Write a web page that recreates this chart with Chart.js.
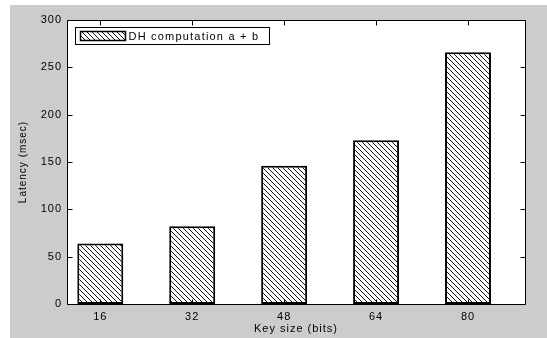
<!DOCTYPE html>
<html>
<head>
<meta charset="utf-8">
<script src="https://cdn.jsdelivr.net/npm/chart.js@4.4.0/dist/chart.umd.min.js"></script>
<style>
html, body { margin: 0; padding: 0; background: #fff; }
#wrap { position: absolute; left: 10px; top: 5px; width: 537px; height: 333px; background: #cccccc; }
</style>
</head>
<body>
<div id="wrap"><canvas id="chart-area" width="537" height="333"></canvas></div>
<script>
// values
var keySizes = ['16', '32', '48', '64', '80'];
var latency = [64, 82, 146, 173, 266];
var yTicks = [0, 50, 100, 150, 200, 250, 300];
var seriesLabel = 'DH computation a + b';

var FONT = 'Liberation Sans, Arial, sans-serif';

function hatch() {
	var s = 5;
	var c = document.createElement('canvas');
	c.width = s; c.height = s;
	var g = c.getContext('2d');
	g.fillStyle = '#fff';
	g.fillRect(0, 0, s, s);
	g.strokeStyle = '#111';
	g.lineWidth = 1;
	g.beginPath();
	g.moveTo(0, 0); g.lineTo(s, s);
	g.moveTo(-1, s - 1); g.lineTo(1, s + 1);
	g.moveTo(s - 1, -1); g.lineTo(s + 1, 1);
	g.stroke();
	return g.createPattern(c, 'repeat');
}
var hatchFill = hatch();

// wide text like the matlab export
var spacing = {
	id: 'spacing',
	beforeLayout: function(chart) { chart.ctx.letterSpacing = '1px'; },
	beforeDraw: function(chart) { chart.ctx.letterSpacing = '1px'; }
};

var frame = {
	id: 'frame',
	beforeDatasetsDraw: function(chart) {
		var a = chart.chartArea, ctx = chart.ctx;
		ctx.save();
		ctx.fillStyle = '#fff';
		ctx.fillRect(a.left, a.top, a.right - a.left, a.bottom - a.top);
		ctx.restore();
	},
	afterDatasetsDraw: function(chart) {
		var a = chart.chartArea, ctx = chart.ctx;
		var xs = chart.scales.x, ys = chart.scales.y;
		var L = Math.round(a.left) + 0.5, R = Math.round(a.right) + 0.5;
		var T = Math.round(a.top) + 0.5, B = Math.round(a.bottom) + 0.5;
		ctx.save();
		ctx.strokeStyle = '#000';
		ctx.lineWidth = 1;
		ctx.beginPath();
		ctx.rect(L, T, R - L, B - T);
		yTicks.forEach(function(v) {
			var y = Math.round(ys.getPixelForValue(v)) + 0.5;
			ctx.moveTo(L, y); ctx.lineTo(L + 5, y);
			ctx.moveTo(R, y); ctx.lineTo(R - 5, y);
		});
		keySizes.forEach(function(k, i) {
			var x = Math.round(xs.getPixelForValue(i + 1)) + 0.5;
			ctx.moveTo(x, T); ctx.lineTo(x, T + 5);
			ctx.moveTo(x, B); ctx.lineTo(x, B - 5);
		});
		ctx.stroke();
		ctx.restore();
	},
	afterDraw: function(chart) {
		var a = chart.chartArea, ctx = chart.ctx;
		var bx = Math.round(a.left) + 8.5, by = Math.round(a.top) + 7.5;
		ctx.save();
		ctx.letterSpacing = '1.2px';
		ctx.fillStyle = '#fff';
		ctx.fillRect(bx, by, 194, 17);
		ctx.strokeStyle = '#000';
		ctx.lineWidth = 1;
		ctx.strokeRect(bx, by, 194, 17);
		ctx.fillStyle = hatchFill;
		ctx.fillRect(bx + 5, by + 4, 45, 9);
		ctx.lineWidth = 1.5;
		ctx.strokeRect(bx + 5, by + 4, 45, 9);
		ctx.fillStyle = '#000';
		ctx.font = '11px ' + FONT;
		ctx.textBaseline = 'middle';
		ctx.fillText(chart.data.datasets[0].label, bx + 53, by + 9);
		ctx.restore();
	}
};

var config = {
	type: 'bar',
	data: {
		datasets: [{
			label: seriesLabel,
			data: latency.map(function(v, i) { return { x: i + 1, y: v }; }),
			backgroundColor: hatchFill,
			borderColor: '#000',
			borderWidth: 2,
			borderSkipped: false,
			categoryPercentage: 1,
			barPercentage: 0.5
		}]
	},
	options: {
		responsive: false,
		animation: false,
		layout: { padding: { left: 0, top: 15, right: 22, bottom: 0 } },
		plugins: {
			legend: { display: false },
			tooltip: { enabled: false }
		},
		scales: {
			x: {
				type: 'linear',
				min: 0.638,
				max: 5.62,
				offset: false,
				grid: { display: false, drawTicks: false },
				border: { display: false },
				afterBuildTicks: function(s) {
					s.ticks = keySizes.map(function(k, i) { return { value: i + 1 }; });
				},
				afterFit: function(s) { s.height = 34; },
				ticks: {
					autoSkip: false,
					maxRotation: 0,
					padding: 6,
					color: '#000',
					font: { family: FONT, size: 11 },
					callback: function(v) { return keySizes[v - 1]; }
				},
				title: {
					display: true,
					text: 'Key size (bits)',
					color: '#000',
					font: { family: FONT, size: 11 },
					padding: { top: 0, bottom: 2 }
				}
			},
			y: {
				min: 0,
				max: 300,
				grid: { display: false, drawTicks: false },
				border: { display: false },
				afterBuildTicks: function(s) {
					s.ticks = yTicks.map(function(v) { return { value: v }; });
				},
				afterFit: function(s) { s.width = 57; },
				ticks: {
					padding: 5,
					color: '#000',
					font: { family: FONT, size: 11 }
				},
				title: {
					display: true,
					text: 'Latency (msec)',
					color: '#000',
					font: { family: FONT, size: 10 },
					padding: { top: 7, bottom: 4 }
				}
			}
		}
	},
	plugins: [spacing, frame]
};

window.onload = function() {
	var ctx = document.getElementById('chart-area').getContext('2d');
	window.myBar = new Chart(ctx, config);
};
</script>
</body>
</html>
